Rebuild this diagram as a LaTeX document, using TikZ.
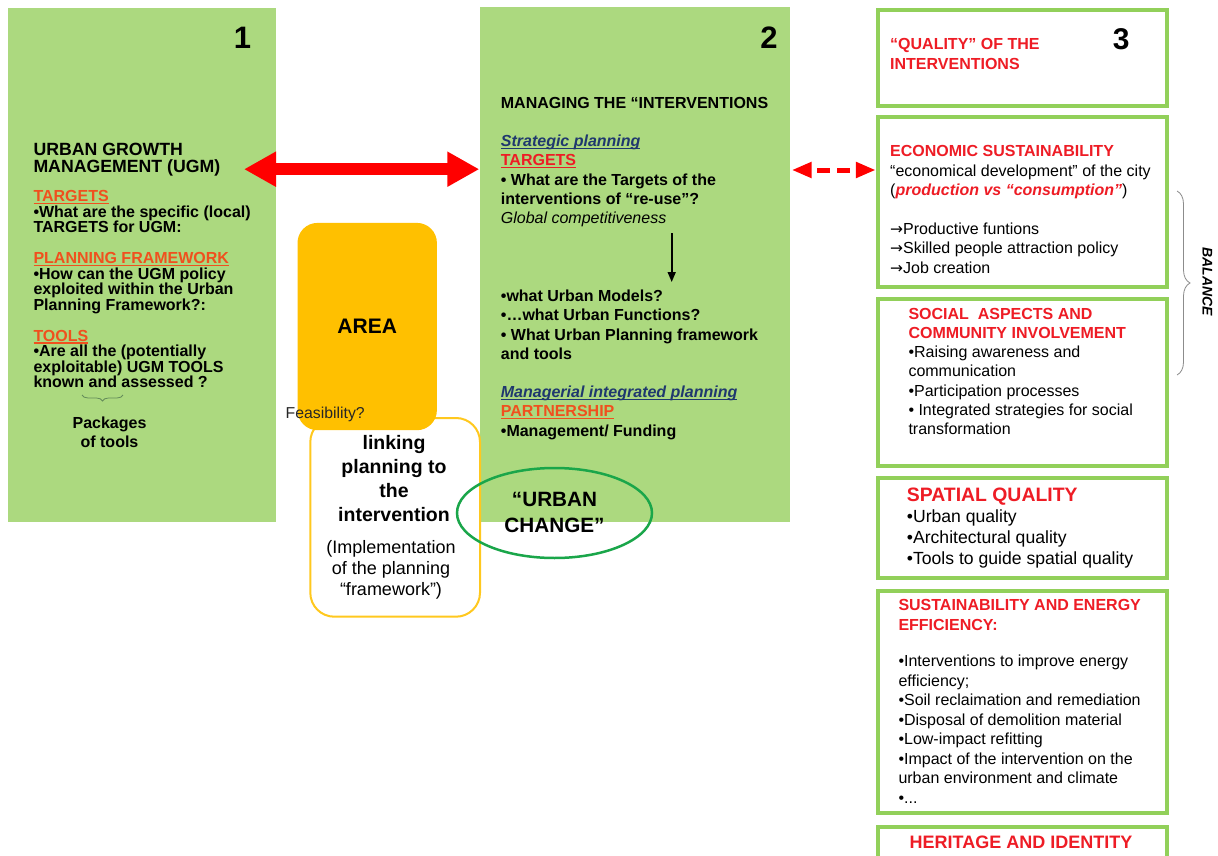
\documentclass[tikz,border=0pt]{standalone}
\usepackage{fontspec}
\setmainfont{Liberation Sans}
\newfontfamily\arrowfont{DejaVu Sans}
\usetikzlibrary{arrows.meta,decorations.pathreplacing,shapes.geometric}

\definecolor{panelgreen}{RGB}{172,217,127}
\definecolor{framegreen}{RGB}{146,208,90}
\definecolor{headred}{RGB}{238,28,37}
\definecolor{headorange}{RGB}{240,80,30}
\definecolor{navy}{RGB}{31,56,110}
\definecolor{amber}{RGB}{255,192,0}
\definecolor{linkyellow}{RGB}{255,200,30}
\definecolor{ringgreen}{RGB}{26,166,74}
\definecolor{bracegray}{RGB}{140,140,140}
\definecolor{bracegreen}{RGB}{100,140,90}

% font size with explicit leading
\newcommand\fs[2]{\fontsize{#1}{#2}\selectfont}
% heading underline
\newcommand\hdul[1]{\setbox0\hbox{#1}\rlap{\rule[-2.3pt]{\wd0}{1.3pt}}\box0}
% list arrow
\newcommand\larr{{\arrowfont\fontsize{15.5}{15.5}\selectfont →}}

% multi-line text nodes are placed by the baseline of their last line
\tikzset{
  panel/.style={fill=panelgreen, draw=none, inner sep=0, anchor=north west},
  qualbox/.style={draw=framegreen, line width=4pt, fill=white, inner sep=0,
    anchor=north west, minimum width=289.5pt},
  txt/.style={inner sep=0, anchor=base west, align=left},
  ctxt/.style={inner sep=0, anchor=base, align=center},
  digit/.style={inner sep=0, font=\fs{31}{31}\bfseries},
  redlink/.style={draw=red, line width=11.7pt,
    {Triangle[length=32pt,width=33pt]}-{Triangle[length=32pt,width=33pt]}},
  reddash/.style={draw=red, line width=5pt, dash pattern=on 13pt off 7pt, dash phase=13pt,
    {Triangle[length=20pt,width=15pt]}-{Triangle[length=20pt,width=15pt]}},
  downlink/.style={draw=black, line width=1.6pt, -{Triangle[length=10pt,width=8pt]}},
}

\begin{document}
\begin{tikzpicture}[x=1pt,y=-1pt]
\useasboundingbox (0,0) rectangle (1218,856);
\clip (0,0) rectangle (1218,856);
\fill[white] (0,0) rectangle (1218,856);

% ---- panel 1: urban growth management
\node[panel, minimum width=268.5pt, minimum height=514pt] (ugm) at (7.5,7.5) {};
\node[digit] (n1) at (242.5,38) {1};
\node[txt, font=\fs{17.7}{17.7}\bfseries] (ugmtitle) at (33.3,172.7)
  {URBAN GROWTH\\MANAGEMENT (UGM)};
\node[txt, font=\fs{16}{15.5}\bfseries] (ugmbody) at (33.3,387.7)
  {\textcolor{headorange}{\hdul{TARGETS}}\\
   •What are the specific (local)\\
   TARGETS for UGM:\\[15.5pt]
   \textcolor{headorange}{\hdul{PLANNING FRAMEWORK}}\\
   •How can the UGM policy\\
   exploited within the Urban\\
   Planning Framework?:\\[15.5pt]
   \textcolor{headorange}{\hdul{TOOLS}}\\
   •Are all the (potentially\\
   exploitable) UGM TOOLS\\
   known and assessed ?};
\coordinate (pkr) at (123,395);
\coordinate (pkl) at (82,395);
\draw[decorate, decoration={brace, amplitude=6pt}, draw=bracegreen, line width=0.8pt] (pkr) -- (pkl);
\node[ctxt, font=\fs{16}{19}\bfseries] (pkg) at (109.5,447) {Packages\\of tools};

% ---- panel 2: managing the interventions
\node[panel, minimum width=310.7pt, minimum height=514.4pt] (mgmt) at (479.3,7.3) {};
\node[digit] (n2) at (769,38) {2};
\node[txt, font=\fs{16}{19.2}\bfseries] (mgmttext) at (500.7,223.5)
  {MANAGING THE “INTERVENTIONS\\[19.2pt]
   \textcolor{navy}{\hdul{\itshape Strategic planning}}\\
   \textcolor{headred}{\hdul{TARGETS}}\\
   • What are the Targets of the\\
   interventions of “re-use”?\\
   {\mdseries\itshape Global competitiveness}};
\coordinate (dn1) at (671.7,233);
\coordinate (dn2) at (671.7,282);
\draw[downlink] (dn1) -- (dn2);
\node[txt, font=\fs{16}{19.2}\bfseries] (mgmtlist) at (500.7,436.1)
  {•what Urban Models?\\
   •…what Urban Functions?\\
   • What Urban Planning framework\\
   and tools\\[19.2pt]
   \textcolor{navy}{\hdul{\itshape Managerial integrated planning}}\\
   \textcolor{headorange}{\hdul{PARTNERSHIP}}\\
   •Management/ Funding};

% ---- linking box and area
\node[draw=linkyellow, line width=2pt, fill=white, rounded corners=24pt, inner sep=0,
  minimum width=169.7pt, minimum height=198.7pt, anchor=north west] (link) at (309.3,417) {};
\node[fill=amber, rounded corners=20pt, inner sep=0, minimum width=139.4pt, minimum height=207.3pt,
  anchor=north west, font=\fs{21}{21}\bfseries] (area) at (297.3,222.7) {AREA};
\node[txt, font=\fs{15.8}{16}, text=black!85] (feas) at (285.5,418) {Feasibility?};
\node[ctxt, font=\fs{19.5}{24}\bfseries] (linktitle) at (394,521.7)
  {linking\\planning to\\the\\intervention};
\node[ctxt, font=\fs{18}{21}] (linknote) at (391,595)
  {(Implementation\\of the planning\\“framework”)};

% ---- urban change
\node[draw=ringgreen, line width=2.5pt, ellipse, inner sep=0,
  minimum width=195pt, minimum height=90pt] (change) at (554.5,513) {};
\node[ctxt, font=\fs{20.7}{26.3}\bfseries] (changetext) at (554.5,532.8) {“URBAN\\CHANGE”};

% ---- panel 3: quality of the interventions
\node[qualbox, minimum height=96pt] (qual) at (875.8,8) {};
\node[qualbox, minimum height=170pt] (econ) at (875.8,115.3) {};
\node[qualbox, minimum height=167pt] (social) at (875.8,297) {};
\node[qualbox, minimum height=100pt] (spatial) at (875.8,476.3) {};
\node[qualbox, minimum height=222.6pt] (energy) at (875.8,588.7) {};
\node[qualbox, minimum height=60pt] (heritage) at (875.8,825.3) {};

\node[txt, text=headred, font=\fs{16}{20}\bfseries] (qualtitle) at (890,70)
  {“QUALITY” OF THE\\INTERVENTIONS};
\node[digit, font=\fs{30}{30}\bfseries] (n3) at (1121.3,39) {3};

\node[txt, font=\fs{16}{19.4}] (econtext) at (890,273.1)
  {\textcolor{headred}{\bfseries ECONOMIC SUSTAINABILITY}\\
   “economical development” of the city\\
   (\textcolor{headred}{\bfseries\itshape production vs “consumption”})\\[19.4pt]
   \larr Productive funtions\\
   \larr Skilled people attraction policy\\
   \larr Job creation};

\node[txt, font=\fs{16}{19.3}] (socialtext) at (908.3,434.8)
  {\textcolor{headred}{\bfseries SOCIAL\ \ ASPECTS AND}\\
   \textcolor{headred}{\bfseries COMMUNITY INVOLVEMENT}\\
   •Raising awareness and\\
   communication\\
   •Participation processes\\
   • Integrated strategies for social\\
   transformation};

\node[txt, text=headred, font=\fs{19.4}{20}\bfseries] (spatialtitle) at (906.7,501.7) {SPATIAL QUALITY};
\node[txt, font=\fs{17.6}{20.8}] (spatiallist) at (906.7,564.1)
  {•Urban quality\\•Architectural quality\\•Tools to guide spatial quality};

\node[txt, text=headred, font=\fs{16}{20.7}\bfseries] (energytitle) at (898.3,630.7)
  {SUSTAINABILITY AND ENERGY\\EFFICIENCY:};
\node[txt, font=\fs{16}{19.5}] (energylist) at (898.3,803)
  {•Interventions to improve energy\\
   efficiency;\\
   •Soil reclaimation and remediation\\
   •Disposal of demolition material\\
   •Low-impact refitting\\
   •Impact of the intervention on the\\
   urban environment and climate\\
   •...};

\node[ctxt, text=headred, font=\fs{18}{18}\bfseries] (heritagetitle) at (1021,848.3) {HERITAGE AND IDENTITY};

% ---- balance brace
\coordinate (bt) at (1177,191);
\coordinate (bb) at (1177,375);
\draw[decorate, decoration={brace, amplitude=13pt}, draw=bracegray, line width=0.8pt] (bt) -- (bb);
\node[inner sep=0, rotate=-90, font=\fs{14}{14}\bfseries\itshape] (bal) at (1207.5,281.7) {BALANCE};

% ---- connectors
\coordinate (la) at (244,169.2);
\coordinate (ra) at (mgmt.west |- la);
\draw[redlink] (la) -- (ra);
\coordinate (da) at (791.7,170);
\coordinate (db) at (econ.west |- da);
\draw[reddash] (da) -- (db);
\end{tikzpicture}
\end{document}
